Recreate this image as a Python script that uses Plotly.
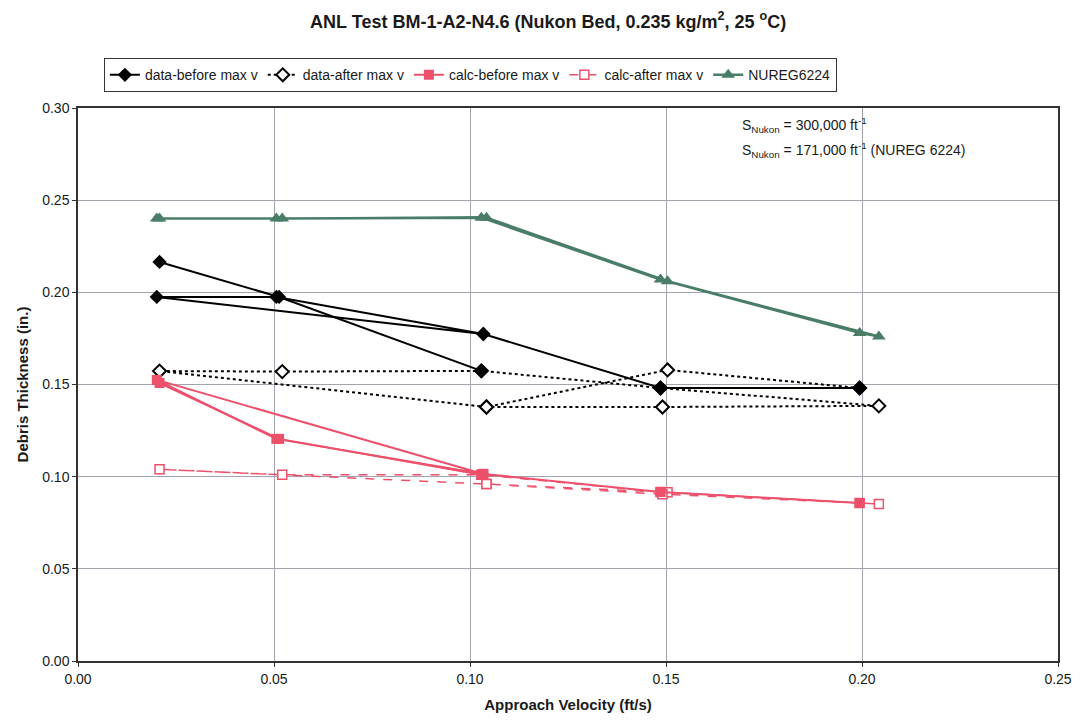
import plotly.graph_objects as go

# ---- data ----
# data-before max v (two runs, drawn as two polylines separated by None)
before_v = [0.0208, 0.0513, 0.1029, None, 0.1994, 0.1486, 0.1034, 0.0201, 0.0506, 0.1034]
before_t = [0.2165, 0.1975, 0.1574, None, 0.1481, 0.1481, 0.1774, 0.1975, 0.1975, 0.1774]

# data-after max v
after_v = [0.1994, 0.1504, 0.1042, 0.0208, 0.0521, 0.1029, 0.1486, 0.2043, 0.1491, 0.1042]
after_t = [0.1481, 0.1579, 0.1378, 0.1573, 0.1570, 0.1574, 0.1481, 0.1384, 0.1378, 0.1378]

# calc-before max v
calc_before_v = [0.0208, 0.0513, 0.1029, None, 0.1994, 0.1486, 0.1034, 0.0201, 0.0506, 0.1034]
calc_before_t = [0.1508, 0.1205, 0.1010, None, 0.0857, 0.0917, 0.1015, 0.1525, 0.1205, 0.1015]

# calc-after max v
calc_after_v = [0.1994, 0.1504, 0.1042, 0.0208, 0.0521, 0.1029, 0.1486, 0.2043, 0.1491, 0.1042]
calc_after_t = [0.0857, 0.0915, 0.0960, 0.1040, 0.1010, 0.1010, 0.0917, 0.0852, 0.0905, 0.0960]

# NUREG6224
nureg_v = [0.0201, 0.0506, 0.1029, 0.1486, 0.1994, 0.2043, 0.1504, 0.1042, 0.0521, 0.0208]
nureg_t = [0.2400, 0.2400, 0.2405, 0.2070, 0.1780, 0.1760, 0.2060, 0.2405, 0.2400, 0.2400]

x_ticks = [0.00, 0.05, 0.10, 0.15, 0.20, 0.25]
y_ticks = [0.00, 0.05, 0.10, 0.15, 0.20, 0.25, 0.30]

BLACK = "#000000"
RED = "#ec506b"
GREEN = "#4a7d68"
TXT = "#1a1a1a"

fig = go.Figure()

# draw "after" traces first so filled markers sit on top
fig.add_trace(go.Scatter(
    x=after_v, y=after_t, mode="lines+markers", name="data-after max v",
    line=dict(color=BLACK, width=2, dash="dot"),
    marker=dict(symbol="diamond", size=10, color="white", line=dict(color=BLACK, width=2)),
    legendrank=2))
fig.add_trace(go.Scatter(
    x=calc_after_v, y=calc_after_t, mode="lines+markers", name="calc-after max v",
    line=dict(color=RED, width=1.5, dash="dash"),
    marker=dict(symbol="square", size=9, color="white", line=dict(color=RED, width=1.5)),
    legendrank=4))
fig.add_trace(go.Scatter(
    x=nureg_v, y=nureg_t, mode="lines+markers", name="NUREG6224",
    line=dict(color=GREEN, width=2.5),
    marker=dict(symbol="triangle-up", size=12, color=GREEN),
    legendrank=5))
fig.add_trace(go.Scatter(
    x=before_v, y=before_t, mode="lines+markers", name="data-before max v",
    line=dict(color=BLACK, width=2),
    marker=dict(symbol="diamond", size=11, color=BLACK),
    legendrank=1))
fig.add_trace(go.Scatter(
    x=calc_before_v, y=calc_before_t, mode="lines+markers", name="calc-before max v",
    line=dict(color=RED, width=2),
    marker=dict(symbol="square", size=10, color=RED),
    legendrank=3))

FONT = "Liberation Sans, Arial, sans-serif"

# the page body adds an 8px margin, so the figure is sized/margined to compensate
fig.update_layout(
    width=1076, height=717,
    margin=dict(l=70, r=22, t=100, b=64),
    paper_bgcolor="white", plot_bgcolor="white",
    font=dict(family=FONT, size=14, color=TXT),
    title=dict(text="<b>ANL Test BM-1-A2-N4.6 (Nukon Bed, 0.235 kg/m<sup>2</sup>, 25 <sup>o</sup>C)</b>",
               x=0.502, xanchor="center", y=0.981, yanchor="middle",
               font=dict(family=FONT, size=18, color=TXT)),
    showlegend=True,
    legend=dict(orientation="h", x=0.4004, xanchor="center", y=1.090, yanchor="top",
                bordercolor="#333333", borderwidth=1, bgcolor="white",
                font=dict(family=FONT, size=14, color=TXT),
                itemwidth=30, tracegroupgap=0),
    xaxis=dict(range=[0, 0.25], tickvals=x_ticks, ticktext=[f"{v:.2f}" for v in x_ticks],
               showgrid=True, gridcolor="#a3a3ad", gridwidth=1,
               showline=True, linecolor="#333333", linewidth=1.5, mirror=True,
               ticks="outside", ticklen=4, tickcolor="#333333", zeroline=False,
               tickfont=dict(family=FONT, size=14, color=TXT),
               title=dict(text="<b>Approach Velocity (ft/s)</b>", standoff=14,
                          font=dict(family=FONT, size=15, color=TXT))),
    yaxis=dict(range=[0, 0.30], tickvals=y_ticks, ticktext=[f"{v:.2f}" for v in y_ticks],
               showgrid=True, gridcolor="#a3a3ad", gridwidth=1,
               showline=True, linecolor="#333333", linewidth=1.5, mirror=True,
               ticks="outside", ticklen=4, tickcolor="#333333", zeroline=False,
               tickfont=dict(family=FONT, size=14, color=TXT),
               title=dict(text="<b>Debris Thickness (in.)</b>", standoff=10,
                          font=dict(family=FONT, size=15, color=TXT))),
    annotations=[
        dict(text="S<sub>Nukon</sub> = 300,000 ft<sup>-1</sup>", xref="paper", yref="paper",
             x=0.676, y=0.969, xanchor="left", yanchor="middle", showarrow=False,
             font=dict(family=FONT, size=14, color=TXT)),
        dict(text="S<sub>Nukon</sub> = 171,000 ft<sup>-1</sup> (NUREG 6224)", xref="paper", yref="paper",
             x=0.676, y=0.924, xanchor="left", yanchor="middle", showarrow=False,
             font=dict(family=FONT, size=14, color=TXT)),
    ],
)

fig.write_html("out.html")
